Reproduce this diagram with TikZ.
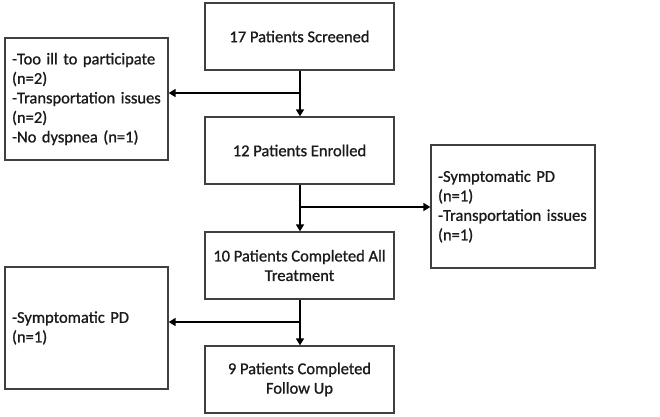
\documentclass[tikz,border=0pt]{standalone}
\usepackage{fontspec}
\setmainfont{Carlito}[FakeBold=1.0]
\usetikzlibrary{arrows.meta}
\definecolor{boxline}{HTML}{404040}
\definecolor{txt}{HTML}{1A1A1A}
\tikzset{
  mainbox/.style={draw=boxline, line width=1.3pt, minimum width=189pt, minimum height=67pt,
    align=center, inner sep=0pt, text=txt, font=\fontsize{16.5}{19.5}\selectfont},
  sidebox/.style={draw=boxline, line width=1.3pt, minimum width=163pt, minimum height=122pt,
    text width=149pt, inner xsep=7pt, inner ysep=0pt, align=left, text=txt,
    font=\fontsize{16.5}{19.5}\selectfont},
  conn/.style={draw=black, line width=1.6pt},
  arr/.style={conn, -{Triangle[length=7pt,width=8pt]}}
}
\begin{document}
\begin{tikzpicture}[x=1pt,y=-1pt]
\useasboundingbox (0,0) rectangle (660,416);
\node[mainbox] (screened) at (299.5,36.5) {17 Patients Screened};
\node[mainbox] (enrolled) at (299.5,150.5) {12 Patients Enrolled};
\node[mainbox] (treat) at (299.5,265.5) {10 Patients Completed All\\Treatment};
\node[mainbox] (follow) at (299.5,379.5) {9 Patients Completed\\Follow Up};
\node[sidebox] (ex1) at (86.5,99) {-Too ill to participate\\(n=2)\\-Transportation issues\\(n=2)\\-No dyspnea (n=1)};
\node[sidebox, minimum width=164pt, minimum height=123pt, text width=150pt] (ex2) at (513,206.5) {-Symptomatic PD\\(n=1)\\-Transportation issues\\(n=1)};
\node[sidebox] (ex3) at (86.5,328) {-Symptomatic PD\\(n=1)};
\coordinate (b1) at (300,93);
\coordinate (b2) at (300,207);
\coordinate (b3) at (300,322);
\draw[arr] (screened.south -| b1) -- (enrolled.north -| b1);
\draw[arr] (b1) -- (ex1.east |- b1);
\draw[arr] (enrolled.south -| b2) -- (treat.north -| b2);
\draw[arr] (b2) -- (ex2.west |- b2);
\draw[arr] (treat.south -| b3) -- (follow.north -| b3);
\draw[arr] (b3) -- (ex3.east |- b3);
\end{tikzpicture}
\end{document}
